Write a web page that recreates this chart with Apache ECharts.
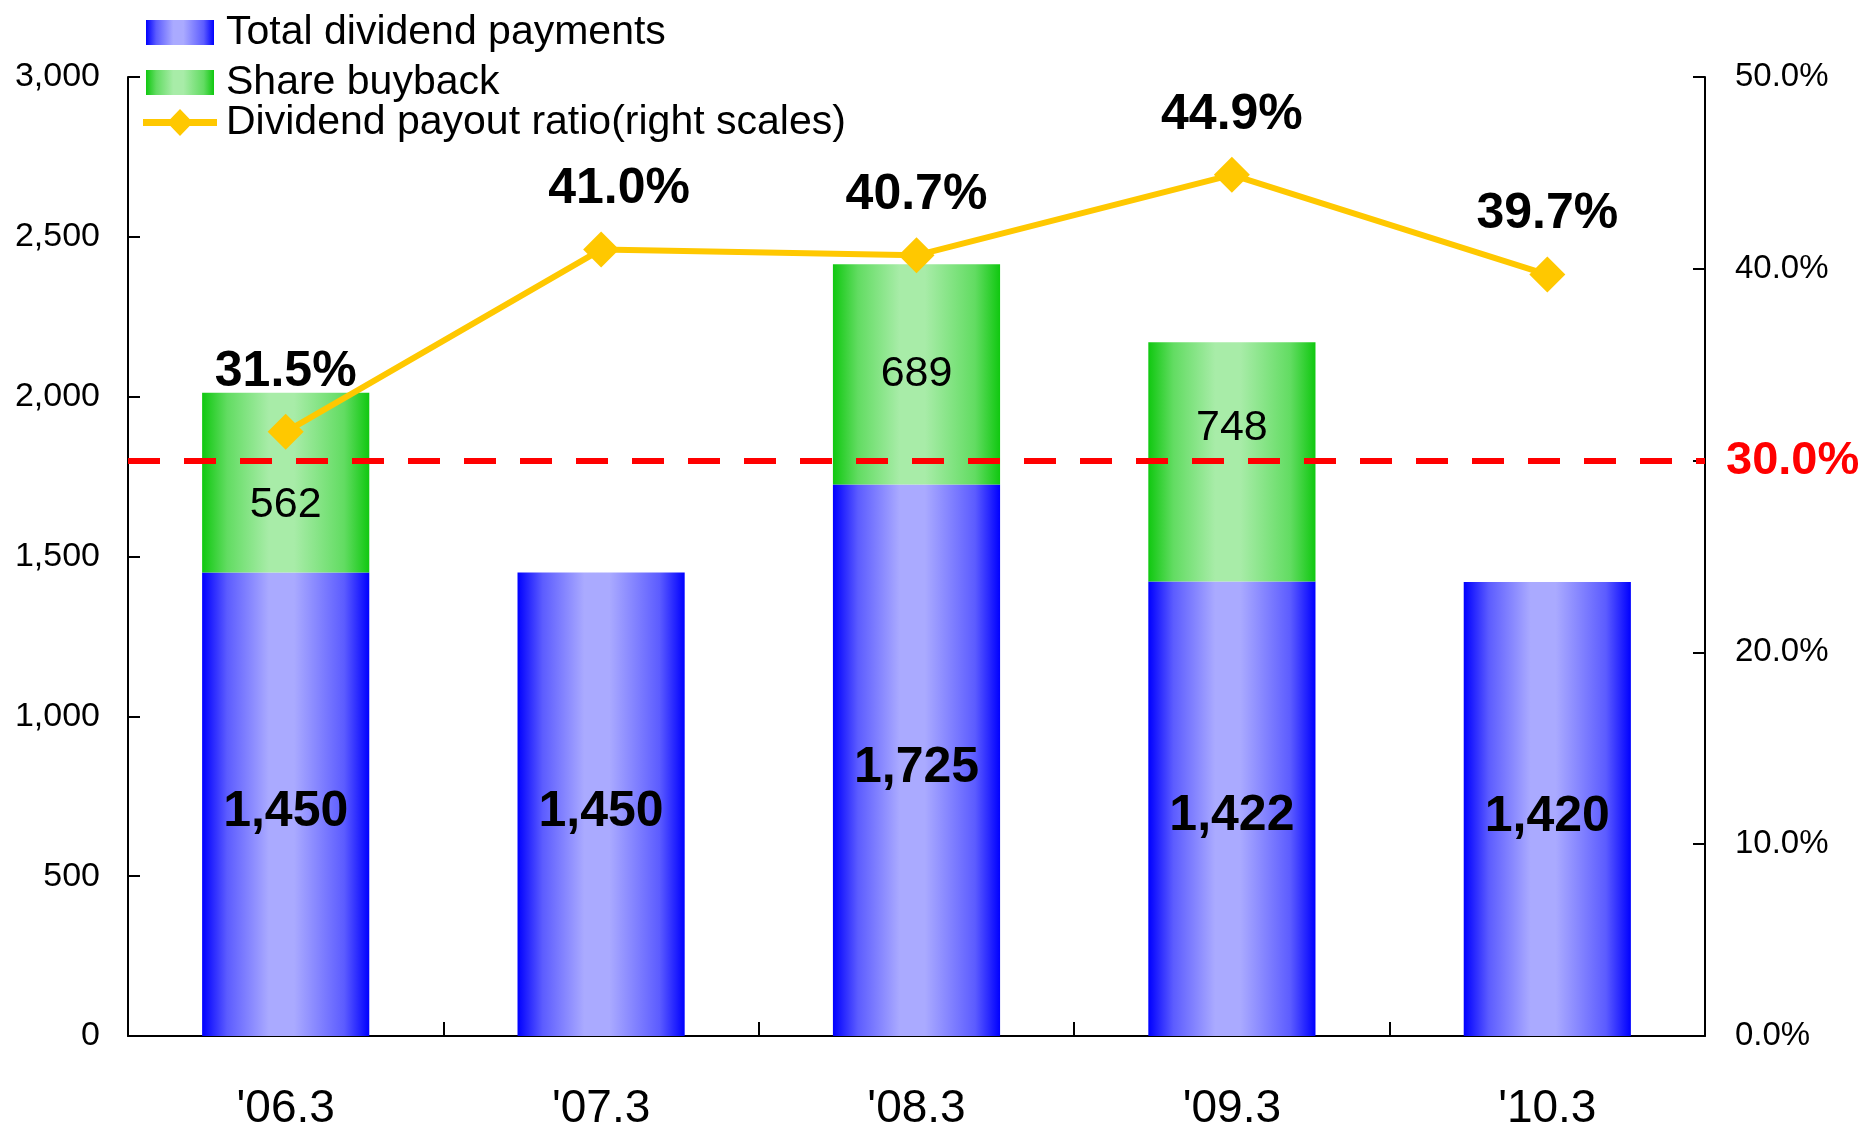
<!DOCTYPE html>
<html>
<head>
<meta charset="utf-8">
<script src="https://cdn.jsdelivr.net/npm/echarts@6/dist/echarts.min.js"></script>
<style>
  html, body { margin: 0; padding: 0; background: #ffffff; }
  #Echarts { width: 1863px; height: 1125px; }
</style>
</head>
<body>
<div id="Echarts"></div>
<script>
// data
const periods = ["'06.3", "'07.3", "'08.3", "'09.3", "'10.3"];
const dividend_total = [1450, 1450, 1725, 1422, 1420];
const share_buyback = [562, null, 689, 748, null];
const payout_ratio = [31.5, 41.0, 40.7, 44.9, 39.7];
const target_ratio = 30;

const left_ticks = { min: 0, max: 3000, step: 500 };
const right_ticks = { min: 0, max: 50, step: 10 };

const series_names = ["Total dividend payments", "Share buyback", "Dividend payout ratio(right scales)"];

const font_main = "'Liberation Sans', Arial, sans-serif";

function comma (v) {
  return String(v).replace(/\B(?=(\d{3})+(?!\d))/g, ",");
}

// bar fill gradients (left -> right), light in the middle
function bar_grad (edge, soft, mid) {
  return new echarts.graphic.LinearGradient(0, 0, 1, 0, [
    { offset: 0, color: edge },
    { offset: 0.15, color: soft },
    { offset: 0.4, color: mid },
    { offset: 0.55, color: mid },
    { offset: 0.85, color: soft },
    { offset: 1, color: edge },
  ]);
}

// legend icon for the ratio line: line + diamond
const line_icon = "path://M0,10 L27.4,10 L37,0 L46.6,10 L74,10 L74,17 L46.6,17 L37,27 L27.4,17 L0,17 Z";

var myChart = echarts.init(document.getElementById("Echarts"), null, {
  width: 1863,
  height: 1125,
});

function legend_item (name, icon, left, top, w, h, padLeft) {
  return {
    orient: "vertical",
    left: left,
    top: top,
    padding: 0,
    itemWidth: w,
    itemHeight: h,
    textStyle: { fontSize: 41, color: "#000", fontFamily: font_main, padding: [0, 0, 0, padLeft] },
    data: [{ name: name, icon: icon }],
  };
}

let option = {
  animation: false,
  backgroundColor: "#ffffff",
  textStyle: { fontFamily: font_main, color: "#000" },
  grid: {
    left: 128,
    right: 158,
    top: 77,
    bottom: 89,
    containLabel: false,
    outerBoundsMode: "none",
  },
  legend: [
    legend_item(series_names[0], "rect", 146, 12, 68, 25, 7),
    legend_item(series_names[1], "rect", 146, 62, 68, 25, 7),
    legend_item(series_names[2], line_icon, 143, 102, 74, 27, 4),
  ],
  xAxis: {
    type: "category",
    data: periods,
    axisLine: { show: true, lineStyle: { color: "#000", width: 2 } },
    axisTick: { show: true, inside: true, length: 14, lineStyle: { color: "#000", width: 2 } },
    axisLabel: { fontSize: 46, color: "#000", margin: 50 },
    splitLine: { show: false },
  },
  yAxis: [
    {
      type: "value",
      min: left_ticks.min,
      max: left_ticks.max,
      interval: left_ticks.step,
      axisLine: { show: true, lineStyle: { color: "#000", width: 2 } },
      axisTick: { show: true, inside: true, length: 12, lineStyle: { color: "#000", width: 2 } },
      axisLabel: { fontSize: 34, color: "#000", margin: 28, formatter: comma },
      splitLine: { show: false },
    },
    {
      type: "value",
      position: "right",
      min: right_ticks.min,
      max: right_ticks.max,
      interval: right_ticks.step,
      axisLine: { show: true, lineStyle: { color: "#000", width: 2 } },
      axisTick: { show: true, inside: true, length: 12, lineStyle: { color: "#000", width: 2 } },
      axisLabel: {
        color: "#000",
        margin: 21,
        // 30% 目標線 -> 紅色粗字
        formatter: function (v) {
          if (v === target_ratio) return "{red|" + v.toFixed(1) + "%}";
          return "{n|" + v.toFixed(1) + "%}";
        },
        rich: {
          n: { fontSize: 33, color: "#000", fontFamily: font_main, padding: [0, 0, 0, 9] },
          red: { fontSize: 47, fontWeight: "bold", color: "#ff0000", fontFamily: font_main },
        },
      },
      splitLine: { show: false },
    },
  ],
  series: [
    {
      name: series_names[0],
      type: "bar",
      stack: "payout",
      data: dividend_total,
      barWidth: "53%",
      itemStyle: { color: bar_grad("#0000ff", "#5c5cff", "#aaaaff") },
      label: {
        show: true,
        position: "inside",
        offset: [0, 8],
        fontSize: 50,
        fontWeight: "bold",
        color: "#000",
        formatter: (p) => comma(p.value),
      },
    },
    {
      name: series_names[1],
      type: "bar",
      stack: "payout",
      // 標籤位置微調 (原圖手動移動過)
      data: share_buyback.map((v, i) => ({
        value: v,
        label: { offset: [0, [22, 0, 0, -34, 0][i]] },
      })),
      barWidth: "53%",
      itemStyle: { color: bar_grad("#10c810", "#62dc62", "#a8eca8") },
      label: {
        show: true,
        position: "inside",
        fontSize: 43,
        color: "#000",
        formatter: (p) => (p.value ? comma(p.value) : ""),
      },
    },
    {
      name: series_names[2],
      type: "line",
      yAxisIndex: 1,
      // '07.3 的標籤在原圖略往右
      data: payout_ratio.map((v, i) => ({
        value: v,
        label: { offset: [[0, 18, 0, 0, 0][i], 0] },
      })),
      symbol: "diamond",
      symbolSize: 36,
      color: "#ffc800",
      lineStyle: { color: "#ffc800", width: 6 },
      itemStyle: { color: "#ffc800" },
      label: {
        show: true,
        position: "top",
        distance: 17,
        fontSize: 50,
        fontWeight: "bold",
        color: "#000",
        formatter: (p) => p.value.toFixed(1) + "%",
      },
      markLine: {
        silent: true,
        symbol: "none",
        label: { show: false },
        lineStyle: { color: "#ff0000", width: 6, type: [32, 24] },
        data: [{ yAxis: target_ratio }],
      },
      z: 5,
    },
  ],
};

myChart.setOption(option);
</script>
</body>
</html>
